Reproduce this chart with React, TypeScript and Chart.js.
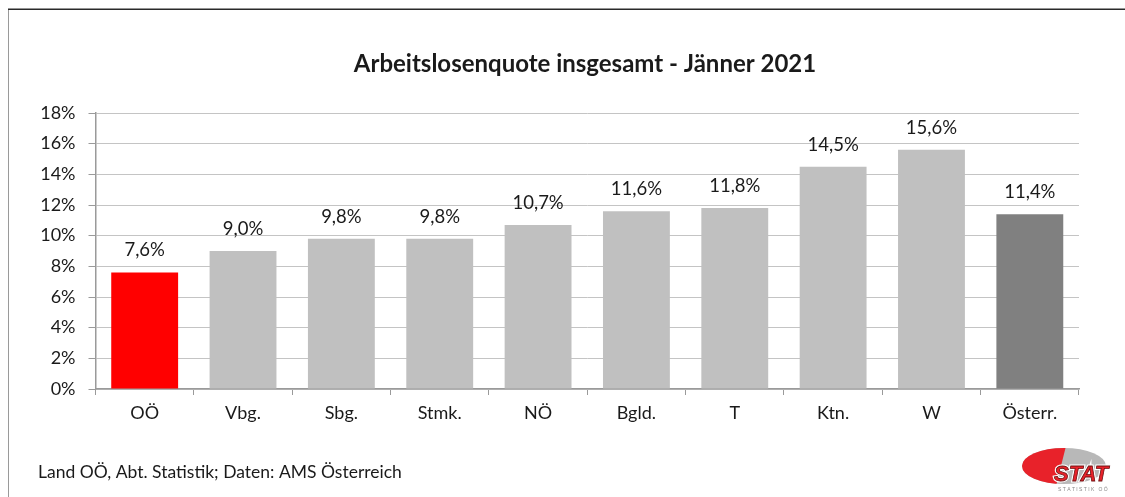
import React, { useEffect, useRef } from "react";
import { Chart, registerables } from "chart.js";

Chart.register(...registerables);

const categories = ["OÖ", "Vbg.", "Sbg.", "Stmk.", "NÖ", "Bgld.", "T", "Ktn.", "W", "Österr."];
const values = [7.6, 9.0, 9.8, 9.8, 10.7, 11.6, 11.8, 14.5, 15.6, 11.4];
const barColors = ["#FF0000", "#C0C0C0", "#C0C0C0", "#C0C0C0", "#C0C0C0", "#C0C0C0", "#C0C0C0", "#C0C0C0", "#C0C0C0", "#808080"];
const titleText = "Arbeitslosenquote insgesamt - Jänner 2021";
const sourceText = "Land OÖ, Abt. Statistik; Daten: AMS Österreich";
const yMin = 0;
const yMax = 18;
const yStep = 2;

const FONT = "Lato, 'Open Sans', sans-serif";
const TEXT = "#1a1a1a";

const fmt = (v: number) => v.toFixed(1).replace(".", ",") + "%";

const decorPlugin = {
  id: "decor",
  afterDraw(chart: any) {
    const ctx = chart.ctx as CanvasRenderingContext2D;
    ctx.save();
    // frame
    ctx.strokeStyle = "#9a9a9a";
    ctx.lineWidth = 1;
    ctx.beginPath();
    ctx.moveTo(8.5, 9);
    ctx.lineTo(8.5, 497);
    ctx.stroke();
    ctx.strokeStyle = "#2a2a2a";
    ctx.lineWidth = 1.5;
    ctx.beginPath();
    ctx.moveTo(8, 9.25);
    ctx.lineTo(1125, 9.25);
    ctx.stroke();

    // title
    ctx.fillStyle = TEXT;
    ctx.font = `bold 24px ${FONT}`;
    ctx.textAlign = "center";
    ctx.textBaseline = "middle";
    ctx.fillText(titleText, 585, 64);

    // value labels
    const meta = chart.getDatasetMeta(0);
    ctx.font = `18.5px ${FONT}`;
    ctx.textBaseline = "alphabetic";
    meta.data.forEach((bar: any, i: number) => {
      ctx.fillText(fmt(values[i]), bar.x, bar.y - 16);
    });

    // source
    ctx.textAlign = "left";
    ctx.font = `17.5px ${FONT}`;
    ctx.textBaseline = "middle";
    ctx.fillText(sourceText, 38, 472);

    // logo
    const cx = 1064, cy = 466, rx = 42, ry = 18;
    ctx.beginPath();
    ctx.ellipse(cx, cy, rx, ry, 0, 0, Math.PI * 2);
    ctx.fillStyle = "#b8b8b8";
    ctx.fill();
    ctx.save();
    ctx.beginPath();
    ctx.ellipse(cx, cy, rx, ry, 0, 0, Math.PI * 2);
    ctx.clip();
    ctx.beginPath();
    ctx.moveTo(cx - rx - 2, cy + ry + 2);
    ctx.lineTo(cx - rx - 2, cy - ry - 2);
    ctx.lineTo(cx + 2, cy - ry - 2);
    ctx.lineTo(cx - 8, cy + ry + 2);
    ctx.closePath();
    ctx.fillStyle = "#e8222a";
    ctx.fill();
    ctx.restore();
    ctx.font = `italic 900 22px 'Liberation Sans', Arial, sans-serif`;
    ctx.textAlign = "left";
    ctx.textBaseline = "alphabetic";
    ctx.lineWidth = 3;
    ctx.strokeStyle = "#ffffff";
    ctx.strokeText("STAT", 1054, 481);
    ctx.fillStyle = "#e8222a";
    ctx.fillText("STAT", 1054, 481);
    ctx.lineWidth = 0.8;
    ctx.strokeStyle = "#6a1010";
    ctx.strokeText("STAT", 1054, 481);
    ctx.font = `5px 'Liberation Sans', sans-serif`;
    ctx.fillStyle = "#888888";
    ctx.fillText("S T A T I S T I K   O Ö", 1058, 491);
    ctx.restore();
  },
};

export default function App() {
  const ref = useRef<HTMLCanvasElement | null>(null);
  useEffect(() => {
    if (!ref.current) return;
    const chart = new Chart(ref.current, {
      type: "bar",
      data: {
        labels: categories,
        datasets: [
          {
            data: values,
            backgroundColor: barColors,
            borderWidth: 0,
            barPercentage: 0.68,
            categoryPercentage: 1,
          },
        ],
      },
      options: {
        responsive: false,
        animation: false,
        devicePixelRatio: 1,
        layout: { padding: { top: 113, left: 20, right: 46, bottom: 68 } },
        plugins: { legend: { display: false }, tooltip: { enabled: false }, title: { display: false } },
        scales: {
          x: {
            type: "category",
            afterFit: (s: any) => { s.height = 40; },
            offset: true,
            grid: {
              offset: true,
              drawOnChartArea: false,
              drawTicks: true,
              tickLength: 6,
              tickColor: "#9a9a9a",
              tickWidth: 1,
            },
            border: { display: true, color: "#9a9a9a", width: 1.5 },
            ticks: { color: TEXT, font: { family: FONT, size: 18 }, padding: 7, maxRotation: 0, autoSkip: false },
          },
          y: {
            min: yMin,
            max: yMax,
            afterFit: (s: any) => { s.width = 75.5; },
            grid: {
              color: "#c4c4c4",
              borderDash: [2, 2],
              lineWidth: 1,
              drawTicks: true,
              tickLength: 7,
              tickColor: "#9a9a9a",
              tickBorderDash: [],
              tickWidth: 1,
            },
            border: { display: true, color: "#9a9a9a", width: 1.5 },
            ticks: {
              stepSize: yStep,
              color: TEXT,
              font: { family: FONT, size: 18 },
              padding: 13,
              callback: (v: any) => `${v}%`,
            },
          },
        },
      },
      plugins: [decorPlugin],
    });
    return () => chart.destroy();
  }, []);
  return (
    <div style={{ position: "absolute", left: 0, top: 0, width: 1125, height: 497, background: "#fff" }}>
      <canvas ref={ref} width={1125} height={497} style={{ display: "block" }} />
    </div>
  );
}
